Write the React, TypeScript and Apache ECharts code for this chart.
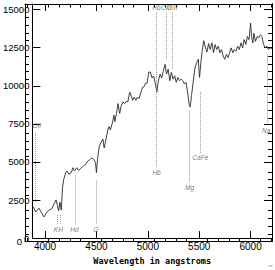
import React, { useEffect, useRef } from "react";
import * as echarts from "echarts";

// Spectrum (wavelength in angstroms, flux)
const WAVE = [
  3887, 3908, 3941, 3962, 3988, 4009, 4035, 4066, 4088, 4107, 4120, 4132, 4144, 4158, 4170, 4182,
  4201, 4214, 4233, 4255, 4271, 4286, 4309, 4327, 4349, 4371, 4396, 4415, 4434, 4453, 4475, 4491,
  4500, 4512, 4528, 4547, 4563, 4575, 4592, 4610, 4623, 4635, 4654, 4670, 4679, 4695, 4710, 4726,
  4742, 4758, 4774, 4790, 4805, 4824, 4837, 4852, 4868, 4884, 4899, 4915, 4937, 4950, 4962, 4978,
  4993, 5009, 5025, 5041, 5057, 5073, 5088, 5104, 5120, 5135, 5151, 5167, 5182, 5198, 5214, 5229,
  5245, 5261, 5276, 5292, 5308, 5324, 5340, 5356, 5371, 5387, 5403, 5412, 5425, 5441, 5459, 5475,
  5491, 5503, 5516, 5528, 5544, 5559, 5575, 5591, 5607, 5623, 5639, 5654, 5670, 5686, 5701, 5717,
  5733, 5748, 5764, 5780, 5795, 5811, 5827, 5842, 5858, 5874, 5890, 5906, 5922, 5937, 5953, 5969,
  5984, 6000, 6009, 6022, 6031, 6047, 6063, 6078, 6094, 6110, 6126, 6142, 6158, 6173, 6189, 6208,
];
const FLUX = [
  2040, 1710, 1970, 1710, 1390, 1600, 1820, 1930, 2250, 2510, 2150, 1780, 2360, 1840, 3330, 3870,
  4300, 4410, 4190, 4300, 4620, 4410, 4620, 4450, 4580, 4730, 4840, 5060, 5140, 5270, 5160, 4950,
  4300, 5270, 6050, 6300, 6500, 5920, 6450, 7100, 7320, 7100, 7530, 8070, 7640, 8180, 8830, 8180,
  8720, 8940, 8830, 8970, 8940, 9580, 9360, 9040, 9260, 9040, 9260, 9150, 9690, 9910, 9930, 10180,
  10180, 10900, 10900, 10510, 10640, 10120, 9600, 10380, 10770, 10510, 10980, 11410, 10770, 11090, 10330, 10880,
  10440, 10660, 10230, 10550, 10330, 10440, 10330, 10120, 10230, 9580, 8720, 8610, 9360, 10230, 11200, 11520,
  11740, 10550, 11520, 12250, 12960, 12540, 12220, 12770, 12380, 12820, 12170, 12710, 12380, 12600, 12170, 12380,
  11950, 11740, 12060, 11850, 12170, 12490, 12170, 12380, 12270, 12600, 12380, 12820, 12490, 13030, 12710, 13240,
  13030, 14110, 13240, 12820, 13460, 12920, 13240, 13140, 13350, 13240, 12710, 12490, 12600, 12380, 12490, 12450,
];

// Spectral feature marker lines: wavelength, from flux, to flux
const MARK_WAVE = [3903, 4123, 4144, 4290, 4500, 5085, 5179, 5236, 5406, 5509, 6160];
const MARK_FROM = [6900, 1520, 1520, 4110, 3780, 14840, 14840, 14840, 8370, 9600, 12060];
const MARK_TO = [2300, 940, 940, 940, 940, 4620, 11740, 11090, 3650, 5590, 7400];

// Feature labels
const LABEL_TEXT = ["OII", "KH", "Hd", "G", "Hb", "Mg", "CaFe", "Na", "Hb", "OIII", "OIII"];
const LABEL_WAVE = [3920, 4129, 4286, 4497, 5085, 5406, 5509, 6151, 5085, 5179, 5236];
const LABEL_FLUX = [7400, 570, 570, 570, 4300, 3330, 5270, 7040, 15160, 15160, 15160];

// Axis ticks
const X_MIN = 3877;
const X_MAX = 6208;
const Y_MIN = 0;
const Y_MAX = 15370;
const X_MAJOR = [4000, 4500, 5000, 5500, 6000];
const Y_MAJOR = [0, 2500, 5000, 7500, 10000, 12500, 15000];
const Y_ZERO = [0];
const X_MINOR: number[] = [];
for (let v = 3900; v <= 6200; v += 100) if (v % 500 !== 0) X_MINOR.push(v);
const Y_MINOR: number[] = [];
for (let v = 500; v <= 15000; v += 500) if (v % 2500 !== 0) Y_MINOR.push(v);

const X_TITLE = "Wavelength in angstroms";

const AX = { lineStyle: { color: "#000", width: 1 } };

function xAxisDef(grid: number, pos: string, ticks: number[], len: number, labels: boolean) {
  return {
    type: "value",
    gridIndex: grid,
    position: pos,
    min: X_MIN,
    max: X_MAX,
    axisLine: { show: true, onZero: false, ...AX },
    axisTick: { show: true, inside: true, length: len, customValues: ticks, ...AX },
    axisLabel: labels
      ? {
          show: true,
          customValues: ticks,
          showMinLabel: true,
          showMaxLabel: true,
          formatter: (v: number) => String(v),
          fontSize: 10,
          fontFamily: "'Liberation Sans Narrow', 'Liberation Sans', sans-serif",
          color: "#000",
          margin: 3,
        }
      : { show: false },
    splitLine: { show: false },
    ...(labels
      ? {
          name: X_TITLE,
          nameLocation: "middle",
          nameGap: 15,
          nameTextStyle: {
            fontSize: 8.5,
            fontWeight: "bold",
            fontFamily: "'DejaVu Sans Mono', monospace",
            color: "#000",
          },
        }
      : {}),
  };
}

function yAxisDef(grid: number, pos: string, ticks: number[], len: number, labelValues: number[] | null) {
  return {
    type: "value",
    gridIndex: grid,
    position: pos,
    min: Y_MIN,
    max: Y_MAX,
    axisLine: { show: true, onZero: false, ...AX },
    axisTick: { show: true, inside: true, length: len, customValues: ticks, ...AX },
    axisLabel: labelValues
      ? {
          show: true,
          customValues: labelValues,
          showMinLabel: true,
          showMaxLabel: true,
          hideOverlap: false,
          formatter: (v: number) => String(v),
          fontSize: 9.5,
          fontFamily: "'Liberation Sans', sans-serif",
          color: "#000",
          margin: 3,
        }
      : { show: false },
    splitLine: { show: false },
  };
}

export default function App() {
  const ref = useRef<HTMLDivElement>(null);
  useEffect(() => {
    if (!ref.current) return;
    const chart = echarts.init(ref.current, null, { renderer: "svg" });
    const gridBox = { left: 25, right: 3, top: 4, bottom: 28.5 };
    const spectrum = WAVE.map((w, i) => [w, FLUX[i]]);
    const marks = MARK_WAVE.map((w, i) => [
      { coord: [w, MARK_FROM[i]] },
      { coord: [w, MARK_TO[i]] },
    ]);
    const labels = LABEL_WAVE.map((w, i) => [w, LABEL_FLUX[i]]);
    chart.setOption({
      animation: false,
      backgroundColor: "#fff",
      color: ["#2a2a2a", "#777777"],
      grid: [gridBox, gridBox],
      xAxis: [
        xAxisDef(0, "bottom", X_MAJOR, 7, true),
        xAxisDef(0, "top", X_MAJOR, 7, false),
        xAxisDef(1, "bottom", X_MINOR, 3.5, false),
        xAxisDef(1, "top", X_MINOR, 3.5, false),
      ],
      yAxis: [
        yAxisDef(0, "left", Y_MAJOR, 8, Y_MAJOR),
        yAxisDef(0, "right", Y_MAJOR, 8, null),
        yAxisDef(1, "left", Y_MINOR, 4, Y_ZERO),
        yAxisDef(1, "right", Y_MINOR, 4, null),
      ],
      series: [
        {
          type: "line",
          xAxisIndex: 0,
          yAxisIndex: 0,
          data: spectrum,
          showSymbol: false,
          symbol: "none",
          itemStyle: { color: "#2a2a2a" },
          lineStyle: { color: "#2a2a2a", width: 0.9 },
          markLine: {
            silent: true,
            symbol: ["none", "none"],
            label: { show: false },
            itemStyle: { color: "#999" },
            lineStyle: { type: "dotted", color: "#999", width: 1 },
            data: marks,
          },
        },
        {
          type: "scatter",
          xAxisIndex: 0,
          yAxisIndex: 0,
          data: labels,
          symbolSize: 0,
          silent: true,
          itemStyle: { color: "rgba(0,0,0,0)" },
          label: {
            show: true,
            position: "inside",
            formatter: (p: any) => LABEL_TEXT[p.dataIndex],
            fontSize: 6.5,
            fontStyle: "italic",
            fontFamily: "'Liberation Sans', sans-serif",
            color: "#555",
          },
        },
      ],
      graphic: [
        {
          type: "text",
          right: 2,
          bottom: 3,
          style: { text: "rrc", fontSize: 4, fill: "#777", fontFamily: "'Liberation Sans', sans-serif" },
        },
      ],
    });
    return () => chart.dispose();
  }, []);
  return (
    <div
      ref={ref}
      style={{ position: "absolute", left: 0, top: 0, width: 275, height: 270 }}
    />
  );
}
